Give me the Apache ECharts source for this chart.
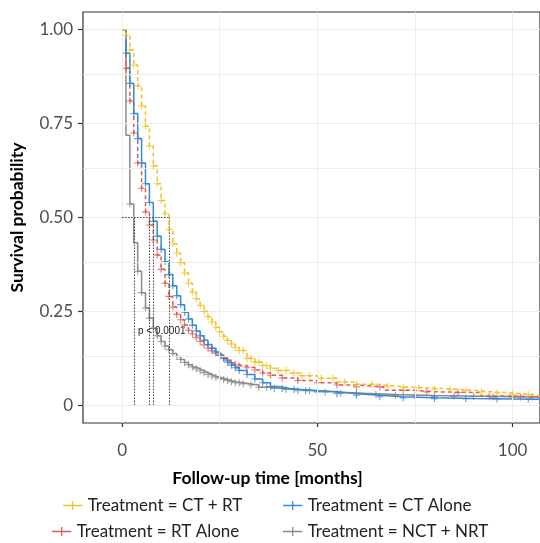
<!DOCTYPE html>
<html><head><meta charset="utf-8">
<script src="https://cdn.jsdelivr.net/npm/echarts@6/dist/echarts.min.js"></script>
<style>html,body{margin:0;padding:0;background:#fff}#c{width:540px;height:543px}</style>
</head><body><div id="c"></div>
<script>
const groupNames = ['Treatment = CT + RT', 'Treatment = CT Alone', 'Treatment = RT Alone', 'Treatment = NCT + NRT'];

const ctrtTime = [0,1,2,3,4,5,6,7,8,9,10,11,12,13,14,15,16,17,18,19,20,21,22,23,24,25,26,27,28,29,30,32,34,36,38,40,43,46,50,55,60,65,70,75,80,85,90,95,100,105,107];
const ctrtSurv = [1,0.985,0.946,0.906,0.85,0.797,0.743,0.69,0.637,0.59,0.545,0.51,0.468,0.43,0.405,0.38,0.352,0.325,0.302,0.284,0.266,0.25,0.236,0.222,0.208,0.196,0.184,0.173,0.163,0.154,0.146,0.125,0.115,0.106,0.099,0.093,0.086,0.079,0.072,0.062,0.056,0.051,0.048,0.046,0.043,0.04,0.036,0.033,0.029,0.024,0.02];

const ctTime = [0,1,2,3,4,5,6,7,8,9,10,11,12,13,14,15,16,17,18,19,20,21,22,23,24,25,26,27,28,29,30,32,34,36,38,40,43,46,50,55,60,66,72,80,90,100,107];
const ctSurv = [1,0.9375,0.857,0.777,0.71,0.645,0.59,0.54,0.49,0.45,0.415,0.382,0.348,0.318,0.292,0.268,0.248,0.23,0.213,0.198,0.185,0.173,0.162,0.152,0.142,0.133,0.124,0.115,0.107,0.1,0.093,0.082,0.07,0.06,0.05,0.045,0.042,0.039,0.036,0.031,0.027,0.023,0.02,0.018,0.017,0.016,0.015];

const rtTime = [0,1,2,3,4,5,6,7,8,9,10,11,12,13,14,15,16,17,18,19,20,21,22,23,24,25,26,27,28,29,30,32,34,36,38,41,45,50,55,60,67,75,80,92,100,107];
const rtSurv = [1,0.897,0.81,0.725,0.645,0.578,0.515,0.48,0.44,0.4,0.362,0.325,0.29,0.262,0.242,0.228,0.214,0.2,0.19,0.18,0.17,0.161,0.152,0.145,0.139,0.134,0.127,0.12,0.113,0.108,0.104,0.1,0.094,0.086,0.08,0.073,0.066,0.06,0.054,0.049,0.04,0.036,0.034,0.025,0.022,0.019];

const nctTime = [0,1,2,3,4,5,6,7,8,9,10,11,12,13,14,15,16,17,18,19,20,21,22,23,24,25,26,27,28,29,31,33,35,38,41,45,50,56,62,70,80,92,107];
const nctSurv = [1,0.719,0.536,0.433,0.357,0.3,0.259,0.232,0.205,0.185,0.17,0.158,0.148,0.138,0.13,0.122,0.114,0.108,0.102,0.097,0.092,0.087,0.082,0.078,0.075,0.072,0.069,0.066,0.063,0.06,0.057,0.054,0.048,0.045,0.042,0.039,0.035,0.032,0.029,0.026,0.024,0.022,0.021];

const ctrtCensor = [1,2,3,4,5,6,7,8,9,10,11,12,13,14,15,16,17,18,19,20,21,22,23,24,25,26,27,28,29,30,31,32,33,34,35,36,37,38,40,42,44,46,48,51,54,57,60,64,68,72,76,80,84,88,92,96,100,104];
const ctCensor = [1,2,3,4,5,6,7,8,9,10,11,12,13,14,15,16,17,18,19,20,21,22,23,24,25,26,27,28,29,30,32,34,36,38,41,44,47,50,55,60,66,72,80,88,96,104];
const rtCensor = [1,2,3,4,5,6,7,8,9,10,11,12,13,14,15,16,17,18,19,20,21,22,23,24,25,26,27,28,29,30,32,34,36,38,41,45,50,55,60,66,72,78,86,94,102];
const nctCensor = [2,4,5,6,7,8,9,10,11,12,13,14,15,16,17,18,19,20,21,22,23,24,25,26,27,28,29,30,31,33,35,37,39,42,45,48,52,56,60,65,70,75,80,85,90,95,100,105];

const medians = [12, 8, 7, 3];
const medianLevel = 0.5;
const xTicks = [0, 50, 100];
const yTicks = [0, 0.25, 0.5, 0.75, 1];
const xGrid = [0, 25, 50, 75, 100];
const yGrid = [0, 0.125, 0.25, 0.375, 0.5, 0.625, 0.75, 0.875, 1];
const pValueText = 'p < 0.0001';

const colors = ['#F0C227', '#3589D6', '#DD5A54', '#8A8A8A'];
const lineTypes = [[4, 3], 'solid', [4, 3], 'solid'];
const times = [ctrtTime, ctTime, rtTime, nctTime];
const survs = [ctrtSurv, ctSurv, rtSurv, nctSurv];
const censors = [ctrtCensor, ctCensor, rtCensor, nctCensor];

function survAt(t, s, x) {
  let v = s[0];
  for (let i = 0; i < t.length; i++) if (t[i] <= x) v = s[i];
  return v;
}
const plusPath = 'path://M0,4.2L10,4.2L10,5.8L0,5.8Z M4.2,0L5.8,0L5.8,10L4.2,10Z';
const legendIcon = 'path://M0,4L20,4L20,5.3L0,5.3Z M9.35,0L10.65,0L10.65,9.3L9.35,9.3Z';
const FONT = 'Lato, "Open Sans", sans-serif';

const series = [];
series.push({
  type: 'line', data: [], silent: true, z: 1,
  markLine: {
    silent: true, symbol: ['none', 'none'], label: {show: false}, animation: false,
    lineStyle: {color: '#EDEDED', width: 1, type: 'solid'},
    data: xGrid.map(v => ({xAxis: v})).concat(yGrid.map(v => ({yAxis: v})))
  }
});
const medMax = Math.max(...medians);
const medLines = [[{coord: [0, medianLevel]}, {coord: [medMax, medianLevel]}]];
medians.forEach(m => medLines.push([{coord: [m, medianLevel]}, {coord: [m, 0]}]));
series.push({
  type: 'line', data: [], silent: true, z: 2,
  markLine: {
    silent: true, symbol: ['none', 'none'], label: {show: false}, animation: false,
    lineStyle: {color: '#444', width: 1, type: [1.5, 1.5]},
    data: medLines
  }
});
for (let g = 0; g < 4; g++) {
  series.push({
    name: groupNames[g], type: 'line', step: 'end', showSymbol: false, symbol: 'none',
    data: times[g].map((t, i) => [t, survs[g][i]]),
    lineStyle: {color: colors[g], width: 1.5, type: lineTypes[g]},
    itemStyle: {color: colors[g]},
    z: 5 - g, animation: false
  });
  series.push({
    name: groupNames[g] + ' censor', type: 'scatter', symbol: plusPath, symbolSize: 7,
    data: censors[g].map(t => [t, survAt(times[g], survs[g], t)]),
    itemStyle: {color: colors[g]}, z: 5 - g, silent: true, animation: false
  });
}

const legendPos = [[63, 497], [283, 497], [52, 523], [283, 523]];
const legends = groupNames.map((n, i) => ({
  data: [{name: n, icon: legendIcon}], left: legendPos[i][0], top: legendPos[i][1],
  itemWidth: 20, itemHeight: 9, padding: 0, selectedMode: false,
  itemStyle: {borderWidth: 0},
  textStyle: {fontFamily: FONT, fontSize: 17, color: '#222'}
}));

const chart = echarts.init(document.getElementById('c'), null, {renderer: 'canvas'});
chart.setOption({
  animation: false,
  backgroundColor: '#fff',
  legend: legends,
  grid: {left: 83, top: 12, right: -1, bottom: 120, show: true, borderColor: '#333', borderWidth: 1.2, backgroundColor: 'transparent'},
  xAxis: {
    type: 'value', min: -10, max: 107,
    name: 'Follow-up time [months]', nameLocation: 'middle', nameGap: 46,
    nameTextStyle: {fontFamily: FONT, fontSize: 17.5, fontWeight: 'bold', color: '#000', padding: [0, 88, 0, 0]},
    axisLine: {show: false, onZero: false},
    axisTick: {show: true, length: 4, customValues: xTicks, lineStyle: {color: '#333', width: 1.2}},
    axisLabel: {customValues: xTicks, margin: 19, fontFamily: FONT, fontSize: 17, color: '#4d4d4d'},
    splitLine: {show: false}
  },
  yAxis: {
    type: 'value', min: -0.047, max: 1.047,
    name: 'Survival probability', nameLocation: 'middle', nameGap: 57,
    nameTextStyle: {fontFamily: FONT, fontSize: 17.5, fontWeight: 'bold', color: '#000'},
    axisLine: {show: false, onZero: false},
    axisTick: {show: true, length: 5, customValues: yTicks, lineStyle: {color: '#333', width: 1.2}},
    axisLabel: {customValues: yTicks, margin: 10, fontFamily: FONT, fontSize: 17, color: '#4d4d4d',
      formatter: v => (v === 0 ? '0' : v.toFixed(2))},
    splitLine: {show: false}
  },
  graphic: [{
    type: 'text', left: 138, top: 326, z: 10,
    style: {text: pValueText, fontSize: 10, fontFamily: '"Liberation Sans", Arial, sans-serif', fill: '#222'}
  }],
  series: series
});
</script></body></html>
